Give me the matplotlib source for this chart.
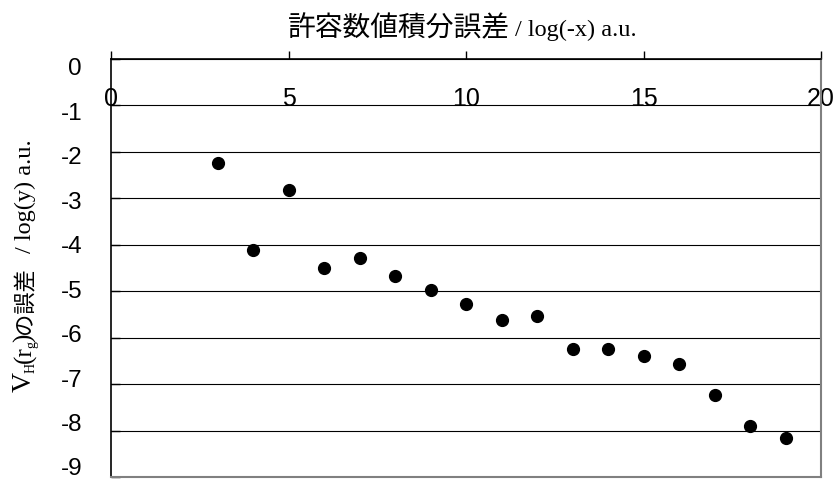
import matplotlib

matplotlib.use("Agg")

import matplotlib.pyplot as plt

W, H = 836, 489
SANS = "Liberation Sans"
SERIF = "Liberation Serif"
CJK = "Noto Sans CJK JP"

x_vals = [3, 4, 5, 6, 7, 8, 9, 10, 11, 12, 13, 14, 15, 16, 17, 18, 19]
y_vals = [-2.23, -4.12, -2.82, -4.50, -4.29, -4.68, -4.98, -5.27, -5.63,
          -5.54, -6.24, -6.24, -6.40, -6.57, -7.23, -7.90, -8.17]
x_ticks = [0, 5, 10, 15, 20]
y_ticks = [0, -1, -2, -3, -4, -5, -6, -7, -8, -9]

# (text, family, size, baseline shift px, gap before px)
title_runs = [
    ("許容数値積分誤差", CJK, 20, 0, 0),
    ("/ log(-x) a.u.", SERIF, 17.5, 0, 5),
]
ylabel_runs = [
    ("V", SERIF, 20, 0, 0),
    ("H", SERIF, 10, 4, -1),
    ("(r", SERIF, 18, 0, 0),
    ("g", SERIF, 10, 4, -2),
    (")", SERIF, 18, 0, -1),
    ("の誤差", CJK, 16, 0, 0),
    ("/ log(y) a.u.", SERIF, 17.5, 0, 14),
]


def draw_runs(fig, runs, x_px, y_px, vertical=False):
    """Lay text runs end to end, centred on (x_px, y_px) (pixels, origin bottom-left)."""
    r = fig.canvas.get_renderer()
    items = []
    for s, fam, size, shift, gap in runs:
        t = fig.text(0, 0, s, family=fam, fontsize=size,
                     rotation=90 if vertical else 0, rotation_mode="anchor",
                     ha="left", va="baseline")
        bb = t.get_window_extent(r)
        items.append((t, shift, gap, bb.height if vertical else bb.width))
    total = sum(L + g for _, _, g, L in items)
    pos = -total / 2
    for t, shift, gap, L in items:
        pos += gap
        if vertical:
            t.set_position(((x_px + shift) / W, (y_px + pos) / H))
        else:
            t.set_position(((x_px + pos) / W, (y_px - shift) / H))
        pos += L


fig = plt.figure(figsize=(W / 100, H / 100), dpi=100)
ax_w = 821 - 111
ax = fig.add_axes([111 / W, 1 - 478 / H, ax_w / W, (478 - 60) / H])

ax.plot(x_vals, y_vals, "o", color="black", ms=8.5, clip_on=False, zorder=3)

ax.set_xlim(0, 20)
ax.set_ylim(-9, 0)

ax.set_xticks(x_ticks)
ax.xaxis.set_ticks_position("top")
ax.tick_params(axis="x", direction="out", length=5.5, width=1,
               labeltop=False, labelbottom=False)
for xt in x_ticks:
    ax.text(xt, -1, str(xt), ha="center", va="baseline",
            family=SANS, fontsize=18, zorder=1)

# y labels sit on a slightly squeezed scale, as in the source chart
ax.set_yticks(y_ticks)
ax.tick_params(axis="y", direction="in", length=6.5, width=1, labelleft=False)
ytrans = ax.get_yaxis_transform()
for yt in y_ticks:
    ax.text(-29 / ax_w, yt * 0.957 - 0.15, str(yt), transform=ytrans,
            ha="right", va="center_baseline", family=SANS, fontsize=17.5)

ax.grid(axis="y", color="black", lw=0.8)
ax.grid(axis="x", visible=False)

for side in ("top", "left"):
    ax.spines[side].set_color("black")
    ax.spines[side].set_linewidth(1.2)
for side in ("right", "bottom"):
    ax.spines[side].set_color("#808080")
    ax.spines[side].set_linewidth(1.5)

draw_runs(fig, title_runs, 462, H - 36)
draw_runs(fig, ylabel_runs, 31, H - 266, vertical=True)

fig.savefig("out.png", dpi=100)
plt.close(fig)
